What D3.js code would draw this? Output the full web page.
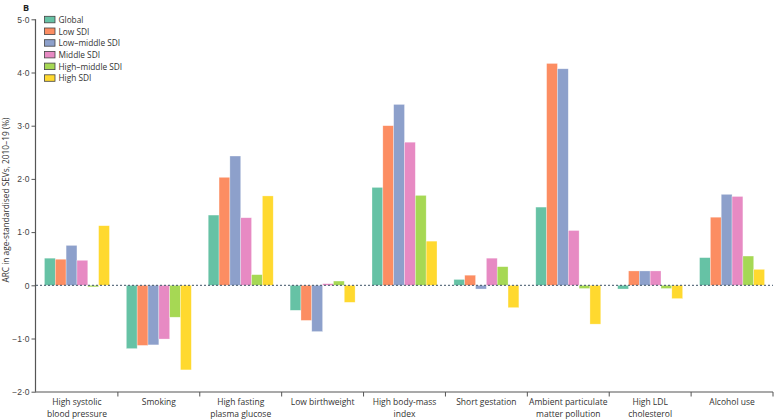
<!DOCTYPE html>
<html><head><meta charset="utf-8">
<script src="https://cdn.jsdelivr.net/npm/d3@7"></script>
<style>body{margin:0;background:#fff}svg{display:block;font-family:"Open Sans","Noto Sans",sans-serif}</style>
</head><body><svg id="c" width="774" height="419"></svg>
<script>
const categories = [
  ["High systolic","blood pressure"],["Smoking"],["High fasting","plasma glucose"],
  ["Low birthweight"],["High body-mass","index"],["Short gestation"],
  ["Ambient particulate","matter pollution"],["High LDL","cholesterol"],["Alcohol use"]
];
const seriesNames = ["Global","Low SDI","Low–middle SDI","Middle SDI","High–middle SDI","High SDI"];
const seriesColors = ["#66c2a5","#fc8d62","#8da0cb","#e78ac3","#a6d854","#ffd92f"];
const globalVals   = [0.51,-1.19,1.32,-0.47,1.84,0.11,1.47,-0.07,0.52];
const lowVals      = [0.49,-1.13,2.03,-0.66,3.00,0.19,4.17,0.27,1.28];
const lowMidVals   = [0.75,-1.12,2.43,-0.87,3.40,-0.07,4.07,0.27,1.71];
const middleVals   = [0.47,-1.01,1.27,0.03,2.69,0.51,1.03,0.27,1.67];
const highMidVals  = [-0.03,-0.60,0.20,0.08,1.69,0.35,-0.06,-0.06,0.55];
const highVals     = [1.12,-1.59,1.68,-0.32,0.83,-0.42,-0.73,-0.25,0.30];
const yTicks = [-2,-1,0,1,2,3,4,5];
const yTickLabels = ["−2·0","−1·0","0","1·0","2·0","3·0","4·0","5·0"];

const seriesVals = [globalVals,lowVals,lowMidVals,middleVals,highMidVals,highVals];
const svg = d3.select("#c");
const catIdx = categories.map((d,i)=>i);
const x0 = d3.scaleBand().domain(catIdx).range([36,773]).padding(0);
const x1 = d3.scaleBand().domain(d3.range(seriesNames.length)).range([0,x0.bandwidth()]).paddingInner(0).paddingOuter(0.78);
const y = d3.scaleLinear().domain([-2,5]).range([391.7,19.3]);

// bars
const g = svg.append("g");
catIdx.forEach(ci=>{
  seriesVals.forEach((vals,si)=>{
    const v = vals[ci];
    g.append("rect")
      .attr("x", x0(ci)+x1(si))
      .attr("y", y(Math.max(0,v)))
      .attr("width", x1.bandwidth())
      .attr("height", Math.abs(y(v)-y(0)))
      .attr("fill", seriesColors[si])
      .attr("stroke","#fff").attr("stroke-opacity",0.5).attr("stroke-width",0.6);
  });
});

// zero dashed line
svg.append("line").attr("x1",36).attr("x2",773).attr("y1",y(0)).attr("y2",y(0))
  .attr("stroke","#3d5266").attr("stroke-width",1).attr("stroke-dasharray","2,2");

// y axis
const yAxis = d3.axisLeft(y).tickValues(yTicks).tickSize(4).tickFormat((d,i)=>yTickLabels[i]);
const ya = svg.append("g").attr("transform","translate(35.5,0)").call(yAxis);
ya.select(".domain").attr("stroke","#555").attr("stroke-width",1.2).attr("d","M0,"+y(5)+"V"+y(-2)+"");
ya.selectAll(".tick line").attr("stroke","#555");
ya.selectAll(".tick text").attr("fill","#444").style("font-size","8.5px").attr("x",-6);

// x axis
const xa = svg.append("g").attr("transform","translate(0,"+(y(-2)+0.3)+")");
xa.append("line").attr("x1",35).attr("x2",773).attr("y1",0).attr("y2",0).attr("stroke","#555").attr("stroke-width",1.2);
catIdx.forEach(ci=>{
  const xb = x0(ci)+x0.bandwidth();
  xa.append("line").attr("x1",xb).attr("x2",xb).attr("y1",0).attr("y2",4.5).attr("stroke","#555").attr("stroke-width",1);
  const t = xa.append("text").attr("text-anchor","middle").attr("fill","#333").style("font-size","8.5px")
    .attr("x", x0(ci)+x0.bandwidth()/2);
  categories[ci].forEach((line,li)=>{
    t.append("tspan").attr("x", x0(ci)+x0.bandwidth()/2).attr("y", 13+li*12).text(line);
  });
});

// y title
svg.append("text").attr("transform","translate(9,200) rotate(-90)").attr("text-anchor","middle")
  .attr("fill","#333").style("font-size","8.3px").text("ARC in age-standardised SEVs, 2010–19 (%)");

// panel label
svg.append("text").attr("x",23).attr("y",11).attr("fill","#222").style("font-size","9px").style("font-weight","bold").text("B");

// legend
const lg = svg.append("g");
seriesNames.forEach((n,i)=>{
  const yy = 16.3 + i*11.7;
  lg.append("rect").attr("x",44.5).attr("y",yy).attr("width",10.5).attr("height",6.5)
    .attr("fill",seriesColors[i]).attr("stroke","#444").attr("stroke-width",0.8);
  lg.append("text").attr("x",58.5).attr("y",yy+6.5).attr("fill","#333").style("font-size","8.3px").text(n);
});
</script></body></html>
